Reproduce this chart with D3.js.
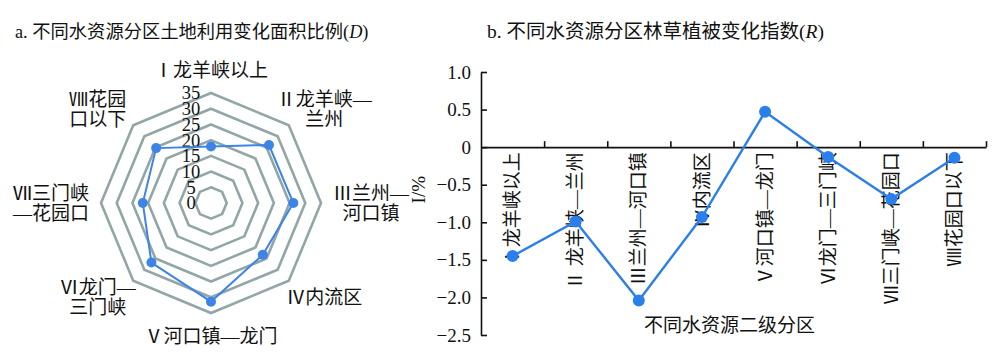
<!DOCTYPE html>
<html>
<head>
<meta charset="utf-8">
<script src="https://cdn.jsdelivr.net/npm/d3@7"></script>
<style>
  body { margin: 0; background: #fff; }
  svg text { font-family: "Liberation Serif", "Noto Sans CJK SC", serif; fill: #111; }
</style>
</head>
<body>
<div id="chart"></div>
<script>
// zones (water resource sub-regions)
const radarLabels = [
  ["Ⅰ龙羊峡以上"],
  ["Ⅱ龙羊峡—", "兰州"],
  ["Ⅲ兰州—", "河口镇"],
  ["Ⅳ内流区"],
  ["Ⅴ河口镇—龙门"],
  ["Ⅵ龙门—", "三门峡"],
  ["Ⅶ三门峡", "—花园口"],
  ["Ⅷ花园", "口以下"]
];
const zoneNames = [
  "Ⅰ龙羊峡以上", "Ⅱ 龙羊峡—兰州", "Ⅲ兰州—河口镇", "Ⅳ内流区",
  "Ⅴ河口镇—龙门", "Ⅵ龙门—三门峡", "Ⅶ三门峡—花园口", "Ⅷ花园口以下"
];
// a. land-use change area ratio D
const areaRatio = [18, 26.1, 26.2, 23.3, 31.4, 26.8, 21.7, 24.7];
const radarTicks = [0, 5, 10, 15, 20, 25, 30, 35];
// b. forest/grass change index R (%)
const changeIndex = [-1.45, -0.99, -2.04, -0.93, 0.47, -0.13, -0.69, -0.14];
const yTicks = [1.0, 0.5, 0, -0.5, -1.0, -1.5, -2.0, -2.5];

const width = 1000, height = 354;
const svg = d3.select("#chart").append("svg")
  .attr("width", width).attr("height", height);

// ---------- a. radar ----------
const cx = 211, cy = 203;
const r = d3.scaleLinear().domain([0, 35]).range([0, 110]);
const n = areaRatio.length;
const angle = i => i * 2 * Math.PI / n;

svg.append("text")
  .attr("x", 15).attr("y", 38)
  .style("font-size", "18.3px")
  .html('a. 不同水资源分区土地利用变化面积比例(<tspan font-style="italic">D</tspan>)');

const radar = svg.append("g").attr("transform", `translate(${cx},${cy})`);
const ring = d3.lineRadial().curve(d3.curveLinearClosed);

radar.selectAll("path.ring")
  .data(radarTicks.filter(t => t > 0))
  .join("path")
  .attr("class", "ring")
  .attr("d", t => ring(d3.range(n).map(i => [angle(i), r(t)])))
  .attr("fill", "none")
  .attr("stroke", "#93a6a7")
  .attr("stroke-width", 2.6);

radar.selectAll("text.tick")
  .data(radarTicks)
  .join("text")
  .attr("class", "tick")
  .attr("x", -20)
  .attr("y", t => -r(t))
  .attr("dy", "0.35em")
  .attr("text-anchor", "middle")
  .style("font-size", "18.5px")
  .text(t => t);

radar.append("path")
  .attr("d", ring(areaRatio.map((v, i) => [angle(i), r(v)])))
  .attr("fill", "none")
  .attr("stroke", "#3d84e6")
  .attr("stroke-width", 2);

radar.selectAll("circle.pt")
  .data(areaRatio)
  .join("circle")
  .attr("class", "pt")
  .attr("cx", (v, i) => r(v) * Math.sin(angle(i)))
  .attr("cy", (v, i) => -r(v) * Math.cos(angle(i)))
  .attr("r", 5)
  .attr("fill", "#3d84e6");

// label ring: a little wider sideways than vertically
const labelRx = 160, labelRy = 133, lineH = 20;
radar.selectAll("text.lab")
  .data(radarLabels)
  .join("text")
  .attr("class", "lab")
  .attr("text-anchor", "middle")
  .style("font-size", "19px")
  .each(function (lines, i) {
    const x = labelRx * Math.sin(angle(i));
    const y = -labelRy * Math.cos(angle(i)) - (lines.length - 1) * lineH / 2;
    d3.select(this).selectAll("tspan")
      .data(lines)
      .join("tspan")
      .attr("x", x)
      .attr("y", (d, k) => y + k * lineH)
      .attr("dy", "0.35em")
      .text(d => d);
  });

// ---------- b. line chart ----------
const x0 = 481, x1 = 986;
const x = d3.scaleBand().domain(zoneNames).range([x0, x1]);
const y = d3.scaleLinear().domain([-2.5, 1]).range([335, 72]);

svg.append("text")
  .attr("x", 487).attr("y", 38)
  .style("font-size", "19.5px")
  .html('b. 不同水资源分区林草植被变化指数(<tspan font-style="italic">R</tspan>)');

const yAxis = svg.append("g")
  .attr("transform", `translate(${x0},0)`)
  .call(d3.axisLeft(y).tickValues(yTicks).tickSize(-6).tickSizeOuter(0).tickPadding(10)
    .tickFormat(d => d === 0 ? "0" : d3.format(".1f")(d)));
yAxis.selectAll("text").style("font-size", "19px").attr("fill", "#111");
yAxis.selectAll("path, line").attr("stroke", "#111").attr("stroke-width", 1.6);

const bounds = d3.scaleLinear().domain([0, zoneNames.length]).range([x0, x1]);
const xAxis = svg.append("g")
  .attr("transform", `translate(0,${y(0)})`)
  .call(d3.axisTop(bounds).tickValues(d3.range(1, zoneNames.length + 1))
    .tickSize(6).tickSizeOuter(0).tickFormat(""));
xAxis.selectAll("path, line").attr("stroke", "#111").attr("stroke-width", 1.6);

svg.append("g").selectAll("text")
  .data(zoneNames)
  .join("text")
  .attr("transform", d => `translate(${x(d) + x.bandwidth() / 2},${y(0) + 5}) rotate(-90)`)
  .attr("text-anchor", "end")
  .attr("dy", "0.35em")
  .style("font-size", "19px")
  .text(d => d);

const line = d3.line()
  .x((v, i) => x(zoneNames[i]) + x.bandwidth() / 2)
  .y(v => y(v));

svg.append("path")
  .attr("d", line(changeIndex))
  .attr("fill", "none")
  .attr("stroke", "#2b7fec")
  .attr("stroke-width", 2.4);

svg.append("g").selectAll("circle")
  .data(changeIndex)
  .join("circle")
  .attr("cx", (v, i) => x(zoneNames[i]) + x.bandwidth() / 2)
  .attr("cy", v => y(v))
  .attr("r", 6)
  .attr("fill", "#2b7fec");

svg.append("text")
  .attr("transform", `translate(418,${(y(0) + y(-1)) / 2 + 5}) rotate(-90)`)
  .attr("text-anchor", "middle")
  .attr("dy", "0.35em")
  .style("font-size", "19px")
  .text("I/%");

svg.append("text")
  .attr("x", (x0 + x1) / 2 - 4)
  .attr("y", 325)
  .attr("dy", "0.35em")
  .attr("text-anchor", "middle")
  .style("font-size", "19px")
  .text("不同水资源二级分区");
</script>
</body>
</html>
